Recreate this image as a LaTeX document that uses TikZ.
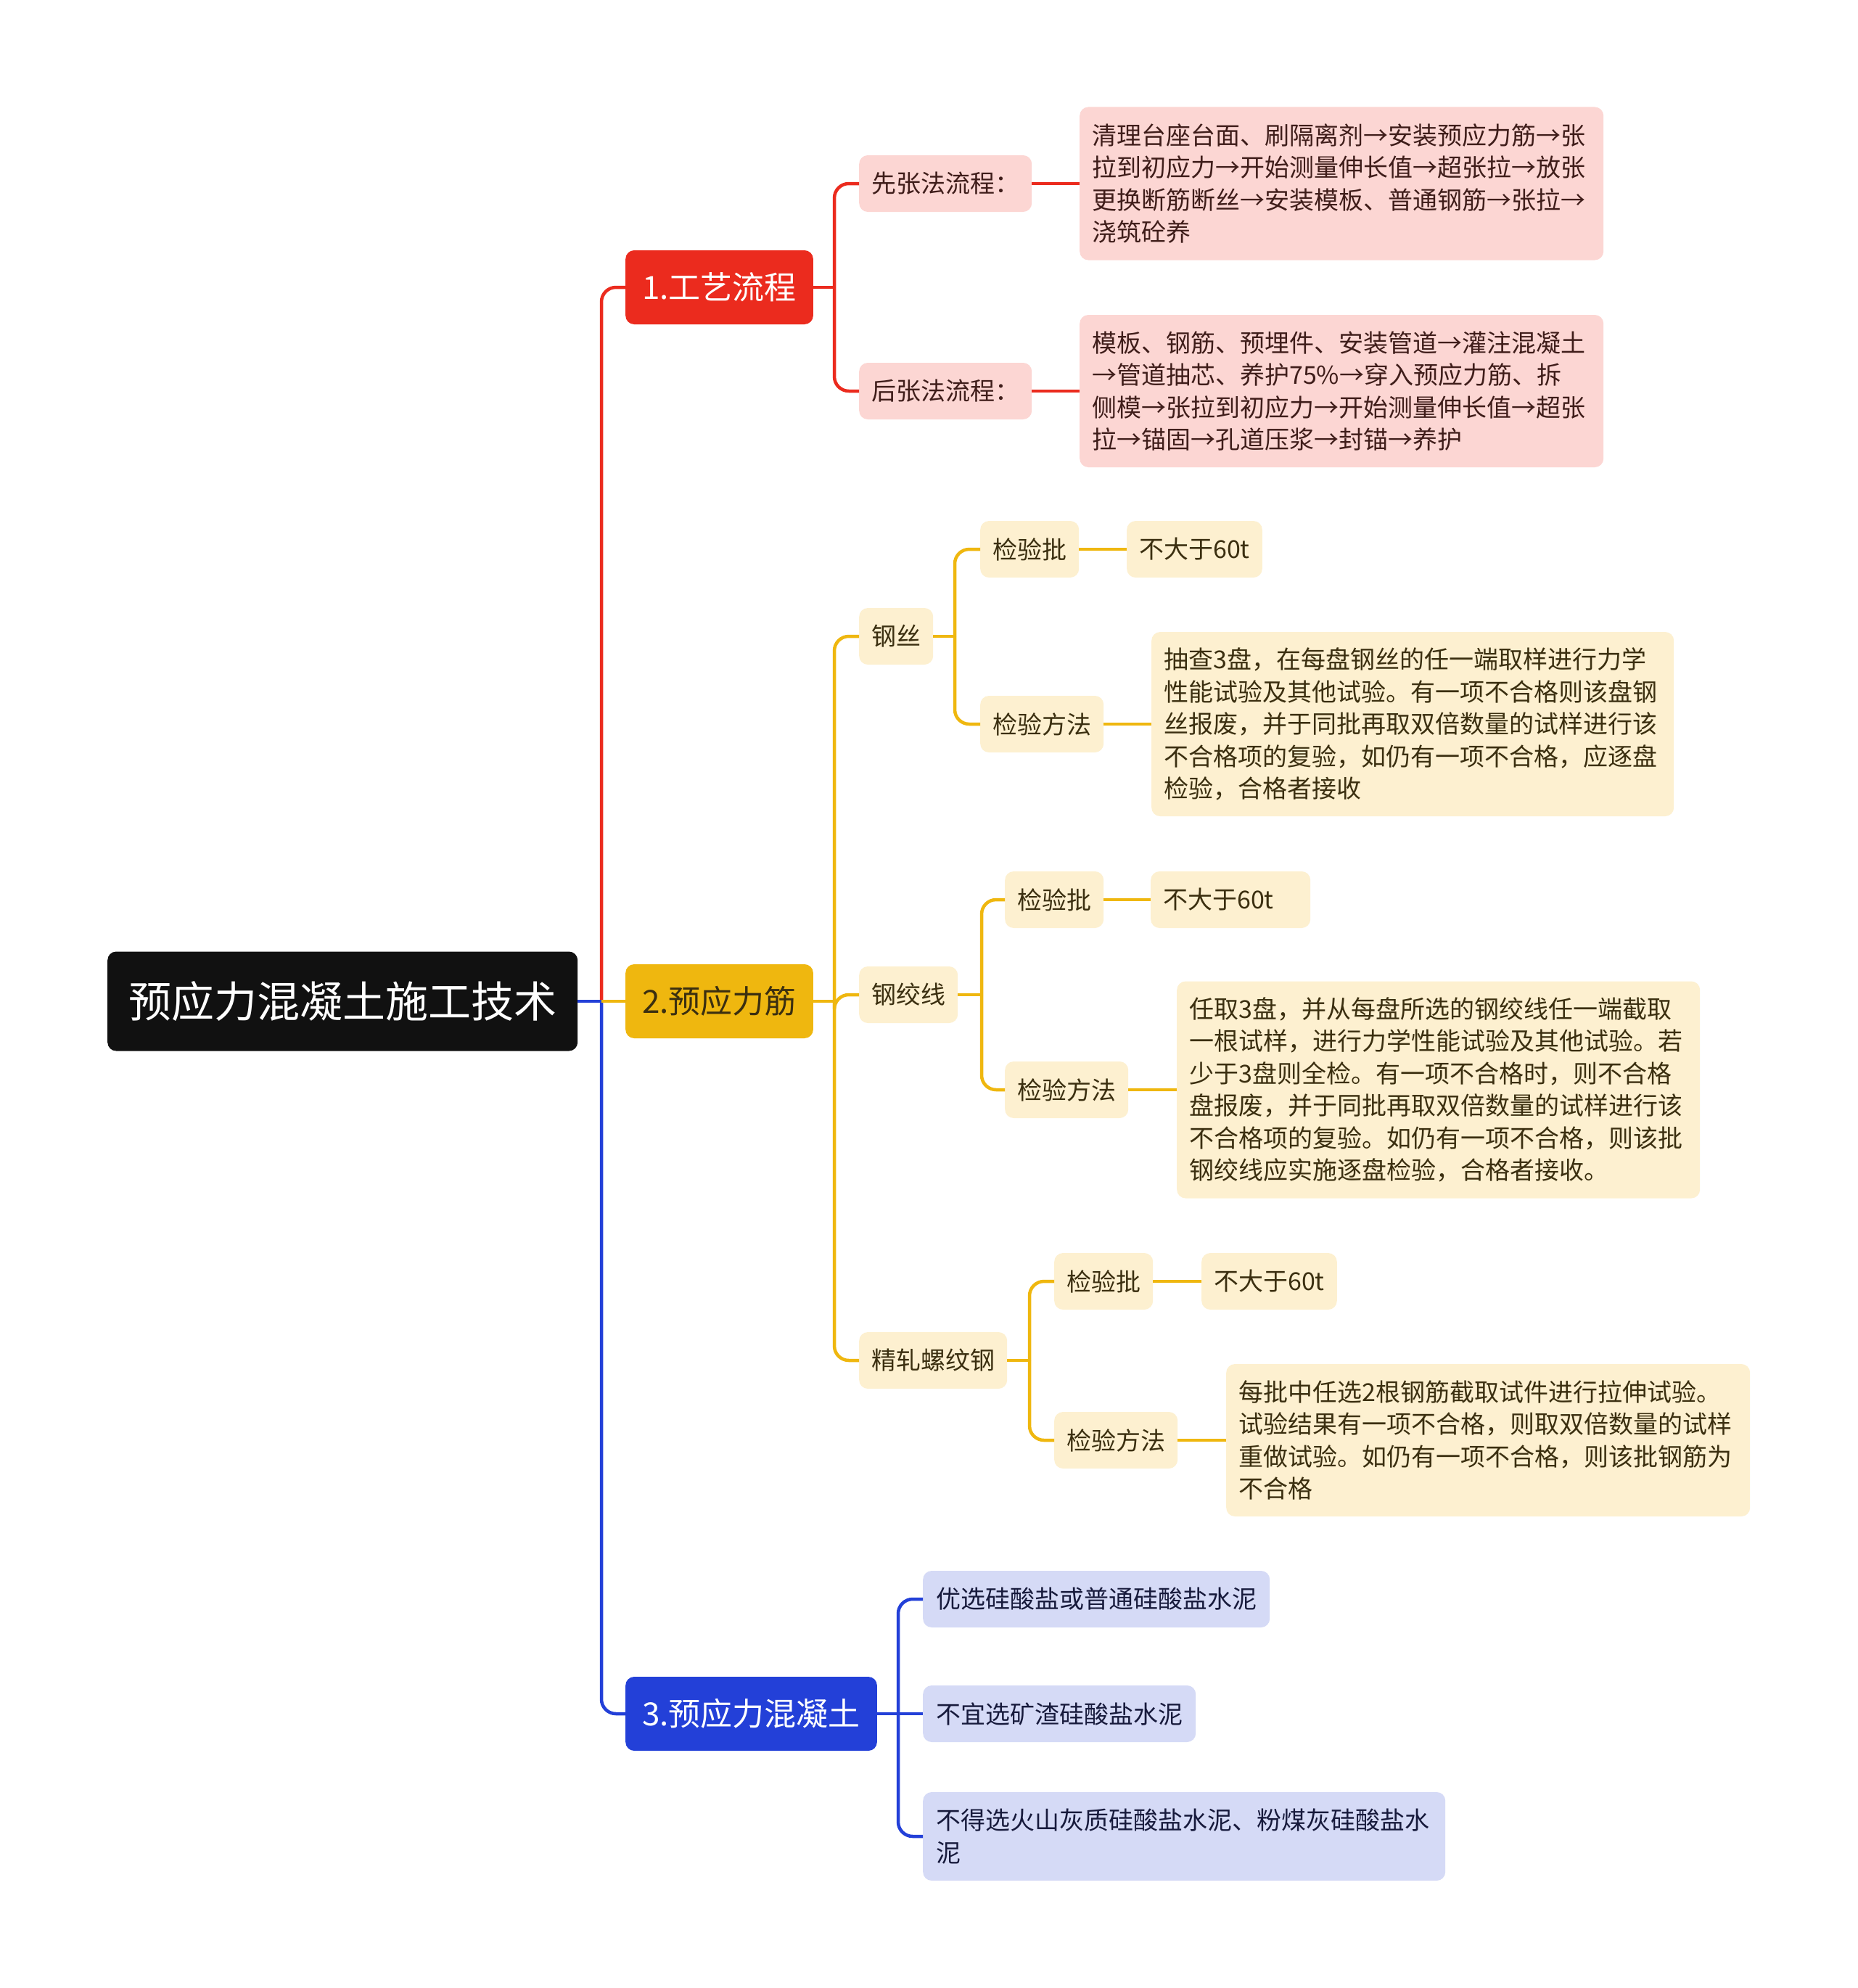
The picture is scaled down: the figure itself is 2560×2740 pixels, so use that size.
\documentclass[tikz,border=0pt]{standalone}
\usepackage{fontspec}
\setmainfont{Noto Sans CJK SC}
\definecolor{redC}{HTML}{EB2B1E}
\definecolor{redL}{HTML}{FCD6D3}
\definecolor{redT}{HTML}{3F1D1A}
\definecolor{yelC}{HTML}{EFB70F}
\definecolor{yelL}{HTML}{FDF0D0}
\definecolor{yelT}{HTML}{3B2F10}
\definecolor{bluC}{HTML}{2340D8}
\definecolor{bluL}{HTML}{D5DAF6}
\definecolor{bluT}{HTML}{171A3C}
\definecolor{rootC}{HTML}{111111}
\newcommand\fsS{\fontsize{34}{44.5}\selectfont}
\newcommand\fsL{\fontsize{44}{52}\selectfont}
\newcommand\fsR{\fontsize{59}{70}\selectfont}
\begin{document}
\begin{tikzpicture}[x=1pt,y=-1pt,
  conn/.style={line width=4.5pt, rounded corners=20pt},
  base/.style={anchor=west, rounded corners=12pt, inner ysep=0pt},
  lone/.style={base, font=\fsL, inner xsep=23pt, minimum height=102pt},
  small/.style={base, font=\fsS, inner xsep=17pt, minimum height=78pt},
  multi/.style={small, align=left},
  rbox/.style={small, fill=redL, text=redT},
  ybox/.style={small, fill=yelL, text=yelT},
  bbox/.style={small, fill=bluL, text=bluT, inner xsep=18pt},
]
\fill[white] (0,0) rectangle (2560,2740);
\useasboundingbox (0,0) rectangle (2560,2740);

% root and level 1
\node[base, fill=rootC, text=white, font=\fsR, inner xsep=29pt, minimum height=137pt] (root) at (148,1380) {预应力混凝土施工技术};
\node[lone, fill=redC, text=white] (a) at (862,396) {1.工艺流程};
\node[lone, fill=yelC, text=yelT] (b) at (862,1380) {2.预应力筋};
\node[lone, fill=bluC, text=white] (c) at (862,2362) {3.预应力混凝土};

% branch 1
\node[rbox] (a1) at (1184,253) {先张法流程：};
\node[rbox] (a2) at (1184,539) {后张法流程：};
\node[rbox, align=left, text width=688pt, minimum height=211pt] (a1t) at (1488,253) {清理台座台面、刷隔离剂→安装预应力筋→张\\拉到初应力→开始测量伸长值→超张拉→放张\\更换断筋断丝→安装模板、普通钢筋→张拉→\\浇筑砼养};
\node[rbox, align=left, text width=688pt, minimum height=210pt] (a2t) at (1488,539) {模板、钢筋、预埋件、安装管道→灌注混凝土\\→管道抽芯、养护75\%→穿入预应力筋、拆\\侧模→张拉到初应力→开始测量伸长值→超张\\拉→锚固→孔道压浆→封锚→养护};

% branch 2
\node[ybox] (b1) at (1184,877) {钢丝};
\node[ybox] (b1a) at (1351,757) {检验批};
\node[ybox] (b1a1) at (1553,757) {不大于60t};
\node[ybox] (b1b) at (1351,998) {检验方法};
\node[ybox, align=left, text width=686pt, minimum height=254pt] (b1bt) at (1587,998) {抽查3盘，在每盘钢丝的任一端取样进行力学\\性能试验及其他试验。有一项不合格则该盘钢\\丝报废，并于同批再取双倍数量的试样进行该\\不合格项的复验，如仍有一项不合格，应逐盘\\检验，合格者接收};

\node[ybox] (b2) at (1184,1371) {钢绞线};
\node[ybox] (b2a) at (1385,1240) {检验批};
\node[ybox, align=left, text width=186pt] (b2a1) at (1586,1240) {不大于60t};
\node[ybox] (b2b) at (1385,1502) {检验方法};
\node[ybox, align=left, text width=687pt, minimum height=299pt] (b2bt) at (1622,1502) {任取3盘，并从每盘所选的钢绞线任一端截取\\一根试样，进行力学性能试验及其他试验。若\\少于3盘则全检。有一项不合格时，则不合格\\盘报废，并于同批再取双倍数量的试样进行该\\不合格项的复验。如仍有一项不合格，则该批\\钢绞线应实施逐盘检验，合格者接收。};

\node[ybox] (b3) at (1184,1875) {精轧螺纹钢};
\node[ybox] (b3a) at (1453,1766) {检验批};
\node[ybox] (b3a1) at (1656,1766) {不大于60t};
\node[ybox] (b3b) at (1453,1985) {检验方法};
\node[ybox, align=left, text width=688pt, minimum height=210pt] (b3bt) at (1690,1985) {每批中任选2根钢筋截取试件进行拉伸试验。\\试验结果有一项不合格，则取双倍数量的试样\\重做试验。如仍有一项不合格，则该批钢筋为\\不合格};

% branch 3
\node[bbox] (c1) at (1272,2204) {优选硅酸盐或普通硅酸盐水泥};
\node[bbox] (c2) at (1272,2362) {不宜选矿渣硅酸盐水泥};
\node[bbox, align=left, text width=684pt, minimum height=122pt] (c3) at (1272,2531) {不得选火山灰质硅酸盐水泥、粉煤灰硅酸盐水\\泥};

% junctions
\coordinate (jr) at (829,1380);
\coordinate (ja) at (1150,396);
\coordinate (jb) at (1150,1380);
\coordinate (jc) at (1238,2362);
\coordinate (jb1) at (1316,877);
\coordinate (jb2) at (1353,1371);
\coordinate (jb3) at (1419,1875);

% connectors root
\draw[conn, redC] (jr) |- (a.west);
\draw[conn, bluC] (jr) |- (c.west);
\draw[conn, yelC] (jr) -- (b.west);
\draw[conn, bluC] (root.east) -- (jr);

% branch 1 connectors
\draw[conn, redC] (a.east) -- (ja);
\draw[conn, redC] (ja) |- (a1.west);
\draw[conn, redC] (ja) |- (a2.west);
\draw[conn, redC] (a1.east) -- (a1t.west);
\draw[conn, redC] (a2.east) -- (a2t.west);

% branch 2 connectors
\draw[conn, yelC] (b.east) -- (jb);
\draw[conn, yelC] (jb) |- (b1.west);
\draw[conn, yelC] (jb) |- (b2.west);
\draw[conn, yelC] (jb) |- (b3.west);
\draw[conn, yelC] (b1.east) -- (jb1);
\draw[conn, yelC] (jb1) |- (b1a.west);
\draw[conn, yelC] (jb1) |- (b1b.west);
\draw[conn, yelC] (b1a.east) -- (b1a1.west);
\draw[conn, yelC] (b1b.east) -- (b1bt.west);
\draw[conn, yelC] (b2.east) -- (jb2);
\draw[conn, yelC] (jb2) |- (b2a.west);
\draw[conn, yelC] (jb2) |- (b2b.west);
\draw[conn, yelC] (b2a.east) -- (b2a1.west);
\draw[conn, yelC] (b2b.east) -- (b2bt.west);
\draw[conn, yelC] (b3.east) -- (jb3);
\draw[conn, yelC] (jb3) |- (b3a.west);
\draw[conn, yelC] (jb3) |- (b3b.west);
\draw[conn, yelC] (b3a.east) -- (b3a1.west);
\draw[conn, yelC] (b3b.east) -- (b3bt.west);

% branch 3 connectors
\draw[conn, bluC] (c.east) -- (jc);
\draw[conn, bluC] (jc) |- (c1.west);
\draw[conn, bluC] (jc) -- (c2.west);
\draw[conn, bluC] (jc) |- (c3.west);
\end{tikzpicture}
\end{document}
